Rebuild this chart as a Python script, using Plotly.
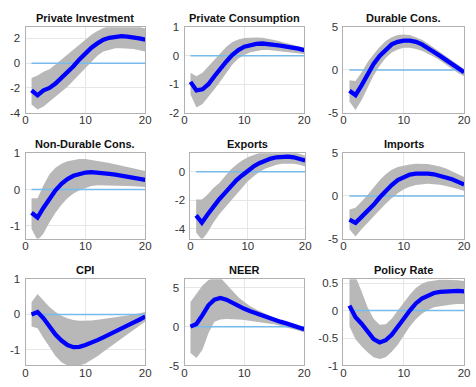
import plotly.graph_objects as go

horizon = list(range(1, 21))

titles = ["Private Investment", "Private Consumption", "Durable Cons.",
          "Non-Durable Cons.", "Exports", "Imports",
          "CPI", "NEER", "Policy Rate"]

inv_mid = [-2.2, -2.6, -2.2, -2.0, -1.65, -1.2, -0.75, -0.25, 0.3, 0.8, 1.25, 1.6, 1.9, 2.05, 2.15, 2.18, 2.15, 2.1, 2.0, 1.9]
inv_lo = [-3.35, -3.75, -3.5, -3.1, -2.7, -2.3, -1.9, -1.4, -0.9, -0.35, 0.15, 0.6, 0.95, 1.1, 1.2, 1.2, 1.2, 1.15, 1.05, 0.95]
inv_hi = [-1.2, -1.0, -0.7, -0.5, -0.1, 0.3, 0.7, 1.1, 1.5, 1.9, 2.3, 2.6, 2.85, 3.0, 3.1, 3.15, 3.1, 3.05, 2.95, 2.8]

con_mid = [-0.92, -1.22, -1.18, -1.0, -0.72, -0.43, -0.2, 0.03, 0.2, 0.32, 0.38, 0.42, 0.43, 0.42, 0.38, 0.36, 0.33, 0.29, 0.25, 0.2]
con_lo = [-1.36, -1.82, -1.7, -1.45, -1.18, -0.9, -0.6, -0.31, -0.1, 0.03, 0.12, 0.17, 0.2, 0.2, 0.18, 0.15, 0.13, 0.1, 0.08, 0.06]
con_hi = [-0.6, -0.72, -0.6, -0.37, -0.14, 0.1, 0.32, 0.48, 0.57, 0.62, 0.64, 0.64, 0.63, 0.6, 0.55, 0.5, 0.44, 0.38, 0.33, 0.29]

dur_mid = [-2.45, -2.95, -1.8, -0.45, 0.7, 1.65, 2.4, 3.0, 3.3, 3.45, 3.45, 3.3, 3.0, 2.6, 2.1, 1.65, 1.15, 0.7, 0.25, -0.27]
dur_lo = [-3.7, -4.7, -3.55, -2.0, -0.65, 0.5, 1.4, 2.05, 2.4, 2.6, 2.6, 2.45, 2.25, 1.9, 1.55, 1.1, 0.6, 0.1, -0.35, -0.75]
dur_hi = [-1.2, -1.3, -0.3, 0.9, 1.85, 2.7, 3.4, 3.85, 4.1, 4.15, 4.1, 3.85, 3.55, 3.1, 2.6, 2.1, 1.6, 1.1, 0.6, 0.1]

ndur_mid = [-0.64, -0.77, -0.5, -0.24, -0.02, 0.16, 0.29, 0.38, 0.44, 0.47, 0.48, 0.47, 0.45, 0.43, 0.41, 0.38, 0.35, 0.33, 0.3, 0.27]
ndur_lo = [-1.08, -1.4, -1.21, -0.9, -0.64, -0.42, -0.24, -0.11, -0.02, 0.05, 0.1, 0.12, 0.12, 0.12, 0.12, 0.11, 0.1, 0.09, 0.08, 0.07]
ndur_hi = [-0.24, -0.24, 0.12, 0.42, 0.6, 0.71, 0.78, 0.82, 0.84, 0.84, 0.82, 0.8, 0.76, 0.73, 0.69, 0.65, 0.62, 0.58, 0.55, 0.51]

exp_mid = [-3.07, -3.58, -3.0, -2.42, -1.95, -1.5, -1.02, -0.6, -0.26, 0.07, 0.37, 0.6, 0.79, 0.93, 1.02, 1.07, 1.07, 1.02, 0.93, 0.79]
exp_lo = [-4.28, -4.8, -4.28, -3.58, -3.0, -2.53, -2.0, -1.53, -1.07, -0.67, -0.33, -0.02, 0.21, 0.37, 0.49, 0.56, 0.58, 0.56, 0.49, 0.37]
exp_hi = [-1.95, -1.95, -1.6, -1.14, -0.8, -0.33, 0.14, 0.49, 0.79, 1.02, 1.19, 1.32, 1.4, 1.45, 1.48, 1.48, 1.45, 1.38, 1.26, 1.12]

imp_mid = [-2.77, -3.15, -2.46, -1.8, -1.04, -0.19, 0.58, 1.27, 1.85, 2.23, 2.5, 2.62, 2.65, 2.62, 2.54, 2.38, 2.19, 1.96, 1.65, 1.35]
imp_lo = [-3.92, -4.77, -3.92, -3.15, -2.46, -1.6, -0.92, -0.27, 0.31, 0.77, 1.08, 1.27, 1.38, 1.42, 1.38, 1.31, 1.15, 1.0, 0.81, 0.58]
imp_hi = [-1.6, -1.4, -0.65, 0.1, 1.0, 1.85, 2.54, 3.08, 3.4, 3.58, 3.7, 3.77, 3.77, 3.73, 3.6, 3.46, 3.23, 2.92, 2.58, 2.23]

cpi_mid = [0.0, 0.07, -0.11, -0.34, -0.57, -0.74, -0.87, -0.93, -0.92, -0.87, -0.81, -0.73, -0.65, -0.56, -0.48, -0.4, -0.31, -0.23, -0.15, -0.06]
cpi_lo = [-0.34, -0.39, -0.67, -0.94, -1.18, -1.36, -1.45, -1.48, -1.45, -1.39, -1.3, -1.19, -1.06, -0.94, -0.82, -0.69, -0.57, -0.45, -0.32, -0.2]
cpi_hi = [0.35, 0.58, 0.4, 0.21, 0.07, -0.04, -0.11, -0.16, -0.18, -0.18, -0.17, -0.15, -0.13, -0.11, -0.08, -0.06, -0.03, 0.0, 0.04, 0.07]

neer_mid = [0.0, 0.34, 1.48, 2.75, 3.47, 3.69, 3.47, 3.05, 2.63, 2.29, 1.99, 1.69, 1.4, 1.14, 0.89, 0.64, 0.42, 0.17, -0.08, -0.34]
neer_lo = [-3.39, -4.03, -2.97, -0.85, 0.64, 0.93, 0.97, 0.97, 0.93, 0.85, 0.76, 0.68, 0.55, 0.42, 0.3, 0.13, -0.08, -0.3, -0.51, -0.76]
neer_hi = [3.18, 4.24, 5.3, 6.0, 6.3, 6.3, 5.5, 4.66, 3.8, 3.18, 2.63, 2.2, 1.82, 1.48, 1.14, 0.85, 0.64, 0.42, 0.21, 0.0]

rate_mid = [0.09, -0.12, -0.24, -0.38, -0.52, -0.58, -0.54, -0.44, -0.31, -0.15, 0.0, 0.13, 0.22, 0.28, 0.32, 0.34, 0.35, 0.36, 0.36, 0.35]
rate_lo = [-0.29, -0.52, -0.65, -0.76, -0.85, -0.88, -0.85, -0.75, -0.62, -0.46, -0.29, -0.16, -0.06, 0.01, 0.06, 0.08, 0.1, 0.11, 0.12, 0.12]
rate_hi = [0.65, 0.62, 0.35, 0.06, -0.15, -0.26, -0.25, -0.15, 0.0, 0.15, 0.29, 0.41, 0.49, 0.53, 0.55, 0.56, 0.56, 0.56, 0.55, 0.54]

mids = [inv_mid, con_mid, dur_mid, ndur_mid, exp_mid, imp_mid, cpi_mid, neer_mid, rate_mid]
los = [inv_lo, con_lo, dur_lo, ndur_lo, exp_lo, imp_lo, cpi_lo, neer_lo, rate_lo]
his = [inv_hi, con_hi, dur_hi, ndur_hi, exp_hi, imp_hi, cpi_hi, neer_hi, rate_hi]

y_ranges = [[-4, 2.9], [-2, 1], [-5, 5], [-1.35, 1], [-4.7, 1.3], [-5, 5],
            [-1.45, 1], [-5, 6.1], [-1, 0.57]]
y_ticks = [[-4, -2, 0, 2], [-2, -1, 0, 1], [-5, 0, 5], [-1, 0, 1], [-4, -2, 0],
           [-5, 0, 5], [-1, 0, 1], [-5, 0, 5], [-1, -0.5, 0, 0.5]]
x_ticks = [0, 10, 20]

W, H = 476, 387
# plot boxes in pixels (left, right, top, bottom)
boxes = [(23, 145, 22, 110), (185, 307, 22, 110), (347, 470, 22, 110),
         (23, 145, 152, 240), (191, 308, 152, 240), (347, 470, 152, 240),
         (23, 145, 282, 371), (185, 307, 282, 371), (347, 470, 282, 371)]

def fmt(v):
    return "%g" % v

fig = go.Figure()
layout = {}
annotations = []
axis_font = dict(family="Arial, Liberation Sans, sans-serif", size=11.5, color="#333333")
for i in range(9):
    n = "" if i == 0 else str(i + 1)
    xa, ya = "x" + n, "y" + n
    l, r, t, b = boxes[i]
    common = dict(showgrid=True, gridcolor="#e6e6e6", gridwidth=1,
                  zeroline=False, showline=True, linecolor="#b0b0b0",
                  linewidth=1, mirror=True, ticks="", tickfont=axis_font)
    layout["xaxis" + n] = dict(domain=[l / W, r / W], anchor=ya, range=[0, 20],
                               tickvals=x_ticks, ticktext=[fmt(v) for v in x_ticks],
                               ticklabelstandoff=-3, **common)
    layout["yaxis" + n] = dict(domain=[1 - b / H, 1 - t / H], anchor=xa, range=y_ranges[i],
                               tickvals=y_ticks[i], ticktext=[fmt(v) for v in y_ticks[i]],
                               ticklabelstandoff=2, **common)
    fig.add_trace(go.Scatter(x=horizon, y=los[i], mode="lines", line=dict(width=0, color="#b8b8b8"),
                             xaxis=xa, yaxis=ya, showlegend=False, hoverinfo="skip"))
    fig.add_trace(go.Scatter(x=horizon, y=his[i], mode="lines", line=dict(width=0, color="#b8b8b8"),
                             fill="tonexty", fillcolor="#b8b8b8",
                             xaxis=xa, yaxis=ya, showlegend=False, hoverinfo="skip"))
    fig.add_trace(go.Scatter(x=horizon, y=[0] * len(horizon), mode="lines",
                             line=dict(width=1.5, color="#76bbea"),
                             xaxis=xa, yaxis=ya, showlegend=False))
    fig.add_trace(go.Scatter(x=horizon, y=mids[i], mode="lines",
                             line=dict(width=4.3, color="#0000ff"),
                             xaxis=xa, yaxis=ya, showlegend=False))
    annotations.append(dict(text="<b>" + titles[i] + "</b>", x=(l + r) / 2 / W, y=1 - (t - 1) / H,
                            xref="paper", yref="paper", xanchor="center", yanchor="bottom",
                            showarrow=False,
                            font=dict(family="Arial, Liberation Sans, sans-serif", size=11, color="#111111")))

fig.update_layout(width=W, height=H, margin=dict(l=0, r=0, t=0, b=0),
                  paper_bgcolor="white", plot_bgcolor="white",
                  annotations=annotations, **layout)
fig.write_html("out.html", config={"displayModeBar": False},
               post_script="document.body.style.margin='0';document.body.style.overflow='hidden';")
